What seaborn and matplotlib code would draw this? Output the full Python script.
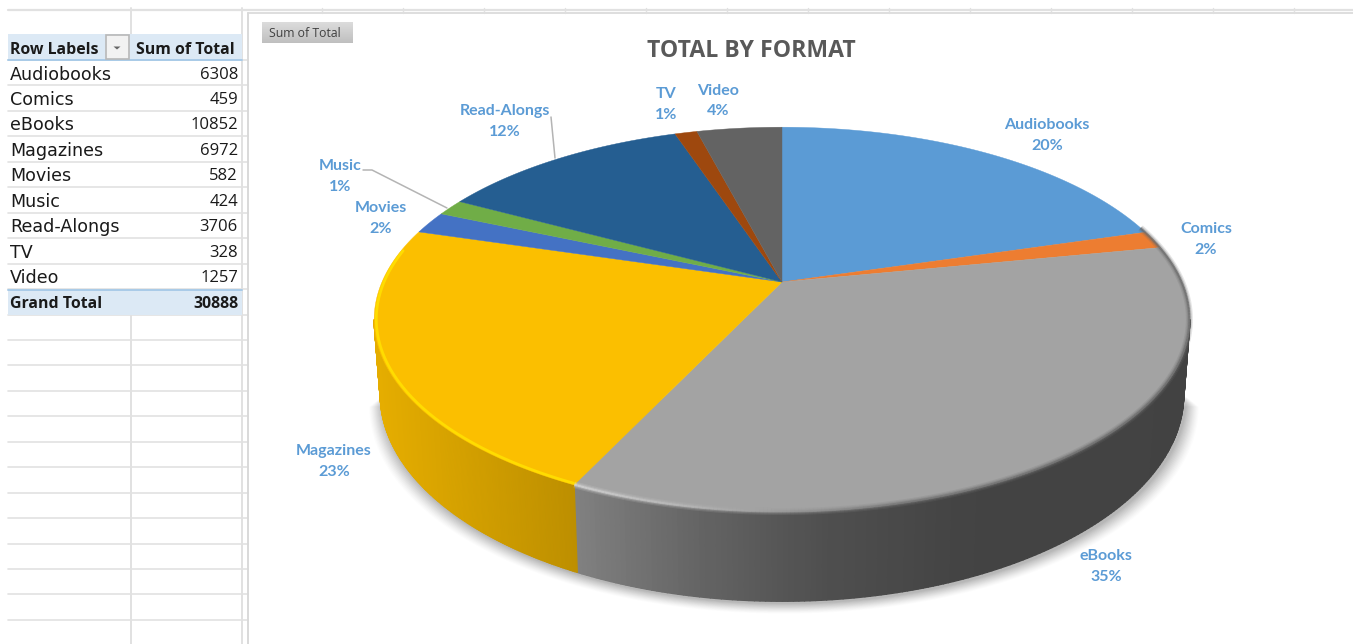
import numpy as np
import pandas as pd
import seaborn as sns
import matplotlib
matplotlib.use("Agg")
import matplotlib.pyplot as plt
from matplotlib.collections import PolyCollection, LineCollection
from matplotlib.patches import Rectangle, Polygon

categories = ["Audiobooks", "Comics", "eBooks", "Magazines", "Movies", "Music", "Read-Alongs", "TV", "Video"]
totals = [6308, 459, 10852, 6972, 582, 424, 3706, 328, 1257]
shown_pct = ["20%", "2%", "35%", "23%", "2%", "1%", "12%", "1%", "4%"]
colors = ["#5B9BD5", "#ED7D31", "#A3A3A3", "#FBBF00", "#4472C4", "#70AD47", "#255E91", "#9E480E", "#636363"]
title = "TOTAL BY FORMAT"
grand_total = "30888"

df = pd.DataFrame({"format": categories, "total": totals, "pct": shown_pct})

sns.set_theme(style="white")
plt.rcParams["font.family"] = ["Open Sans", "DejaVu Sans"]

W, H = 1353, 644
fig = plt.figure(figsize=(W / 100, H / 100), dpi=100, facecolor="white")
ax = fig.add_axes([0, 0, 1, 1])
ax.set_xlim(0, W)
ax.set_ylim(H, 0)
ax.axis("off")

# ---- worksheet grid
GRID = "#E1E1E1"
row_h = 25.45
ax.add_patch(Rectangle((8, 34), 234, 26, fc="#DCE9F5", ec="none", zorder=1))
ax.add_patch(Rectangle((8, 289.5), 234, 25.5, fc="#DCE9F5", ec="none", zorder=1))
for i in range(23):
    y = 60 + i * row_h
    ax.plot([8, 248], [y, y], color=GRID, lw=1.2, zorder=0)
ax.plot([8, 1353], [9.5, 9.5], color=GRID, lw=1.6, zorder=0)
ax.plot([131, 131], [8, 34], color=GRID, lw=1.4, zorder=0)
ax.plot([131, 131], [315, H], color=GRID, lw=1.4, zorder=0)
ax.plot([242, 242], [8, H], color=GRID, lw=1.4, zorder=0)
ax.plot([8, 242], [60, 60], color="#A9CBE8", lw=1.4, zorder=2)
ax.plot([8, 242], [289.5, 289.5], color="#A9CBE8", lw=1.4, zorder=2)
ax.plot([248, W], [13, 13], color="#DEDEDE", lw=1.4, zorder=2)
ax.plot([248, 248], [13, H], color="#D9D9D9", lw=1.4, zorder=2)
for k in range(13):
    gx = 322 + 81 * k
    ax.plot([gx, gx], [8, 13], color=GRID, lw=1.0, zorder=1)

# ---- pivot table
TXT = "#1A1A1A"
ax.text(10, 49.5, "Row Labels", fontsize=11.4, fontweight="bold", color=TXT, va="center", zorder=3)
ax.text(235, 49.5, "Sum of Total", fontsize=11.4, fontweight="bold", color=TXT, va="center", ha="right", zorder=3)
ax.add_patch(Rectangle((105.5, 35), 23, 24, fc="#F2F2F2", ec="#B8B8B8", lw=1.2, zorder=3))
ax.add_patch(Polygon([(113.5, 46.5), (120.5, 46.5), (117, 49.5)], fc="#666666", ec="none", zorder=4))
for i, (c, v) in enumerate(zip(df["format"], df["total"])):
    y = 74.5 + i * row_h
    ax.text(10, y, c, fontsize=12.6, color=TXT, va="center", family="DejaVu Sans", zorder=3)
    ax.text(238, y, str(v), fontsize=12, color=TXT, va="center", ha="right", zorder=3)
ax.text(10, 303.5, "Grand Total", fontsize=11.4, fontweight="bold", color=TXT, va="center", zorder=3)
ax.text(238, 303.5, grand_total, fontsize=11.4, fontweight="bold", color=TXT, va="center", ha="right", zorder=3)

# ---- field button + title
for k, g in enumerate(np.linspace(0.86, 0.75, 21)):
    ax.add_patch(Rectangle((262, 22 + k), 91, 1.05, fc=(g, g, g), ec="none", zorder=3))
ax.text(304.5, 33, "Sum of Total", fontsize=8.8, color="#404040", va="center", ha="center", zorder=4)
ax.text(751, 50.5, title, fontsize=16.6, fontweight="bold", color="#595959", va="center", ha="center", zorder=4)

# ---- perspective pie built from the values
CX, CY, RX, RY, K = 782.0, 282.0, 400.0, 185.0, 0.195
DEPTH = 72.0


def top(theta, r=1.0):
    u, v = r * np.sin(theta), r * np.cos(theta)
    d = 1 + K * v
    return CX + RX * u / d, CY - RY * v / d


def bottom(theta):
    x, y = top(theta)
    v = np.cos(theta)
    return CX + (x - CX) * 0.985, y + DEPTH / (1 + K * v)


fractions = np.array(totals, dtype=float) / sum(totals)
edges = np.concatenate([[0.0], np.cumsum(fractions)]) * 2 * np.pi
silhouette = np.arccos(-K)          # where the rim turns away from the viewer

# soft shadow under the pie
t = np.linspace(silhouette, 2 * np.pi - silhouette, 361)
bx, by = bottom(t)
for grow, alpha in zip(np.linspace(13, 1, 13), np.linspace(0.012, 0.035, 13)):
    sx = CX + (bx - CX) * (1 + grow / 400) + 2
    sy = by + grow * 0.8 + 2
    ax.fill(sx, sy, color="black", alpha=alpha, lw=0, zorder=5)


# extruded wall: vertical gradient strips running across the front arc
def wall_color(theta, base):
    x, _ = top(theta)
    f = (x - 374) / (1190 - 374)
    if base == colors[3]:
        return tuple(np.array([0.90, 0.68, 0.0]) * (1 - f / 0.25 * 0.18 if f < 0.25 else 0.82))
    g = np.interp(f, [0.25, 0.40, 0.55, 0.72, 1.0], [0.50, 0.39, 0.31, 0.265, 0.26])
    return (g, g, g)


polys, cols = [], []
for i in [2, 3]:
    start = max(edges[i], silhouette)
    stop = min(edges[i + 1], 2 * np.pi - silhouette)
    ths = np.linspace(start, stop, 161)
    for a, b in zip(ths[:-1], ths[1:]):
        xa, ya = top(a)
        xb, yb = top(b)
        xc, yc = bottom(b)
        xd, yd = bottom(a)
        polys.append([(xa, ya), (xb, yb), (xc, yc), (xd, yd)])
        cols.append(wall_color((a + b) / 2, colors[i]))
ax.add_collection(PolyCollection(polys, facecolors=cols, edgecolors=cols, linewidths=1.0, zorder=6))

# top face
for i in range(len(totals)):
    th = np.linspace(edges[i], edges[i + 1], max(int(400 * fractions[i]), 8))
    x, y = top(th)
    ax.fill(np.r_[CX, x], np.r_[CY, y], color=colors[i], lw=0.3, zorder=7)

# bevel along the front rim, colour following the light
rim_t = np.linspace(edges[3], edges[3] + 0.92 * (edges[4] - edges[3]), 140)
x, y = top(rim_t, 0.995)
ax.plot(x, y, color="#FFDC00", lw=2.0, zorder=8)


def rim_strokes(theta, shade, r):
    x, y = top(theta, r)
    pts = np.column_stack([x, y])
    return np.stack([pts[:-1], pts[1:]], axis=1), shade(0.5 * (x[:-1] + x[1:]))


grey = lambda xs: np.interp(xs, [578, 690, 800, 900, 1100, 1190], [0.84, 0.72, 0.58, 0.46, 0.42, 0.42])
th = np.linspace(np.radians(72), edges[3], 300)
segs, g = rim_strokes(th, grey, 0.999)
for lw, a in [(5.0, 0.18), (3.2, 0.3), (1.6, 0.7)]:
    ax.add_collection(LineCollection(segs, colors=[(v, v, v, a) for v in g], linewidths=lw, zorder=8))

# ---- labels
LABEL = "#5B9BD5"
label_xy = {
    "Audiobooks": (1047, 135.5), "Comics": (1206, 239.5), "eBooks": (1106, 566.5),
    "Magazines": (334, 461.5), "Movies": (381, 218.5), "Music": (340, 176.5),
    "Read-Alongs": (505, 121.5), "TV": (666, 104.5), "Video": (718, 101),
}
for c, p in zip(df["format"], df["pct"]):
    x, y = label_xy[c]
    ax.text(x, y, f"{c}\n{p}", fontsize=11.5, fontweight="bold", color=LABEL, ha="center",
            va="center", linespacing=1.55, family="Lato", zorder=9)

ax.plot([363, 372, 447], [170, 170, 208], color="#B4B4B4", lw=1.1, zorder=8)
ax.plot([551, 555], [117, 158], color="#B4B4B4", lw=1.1, zorder=8)

fig.savefig("out.png", dpi=100, facecolor="white")
